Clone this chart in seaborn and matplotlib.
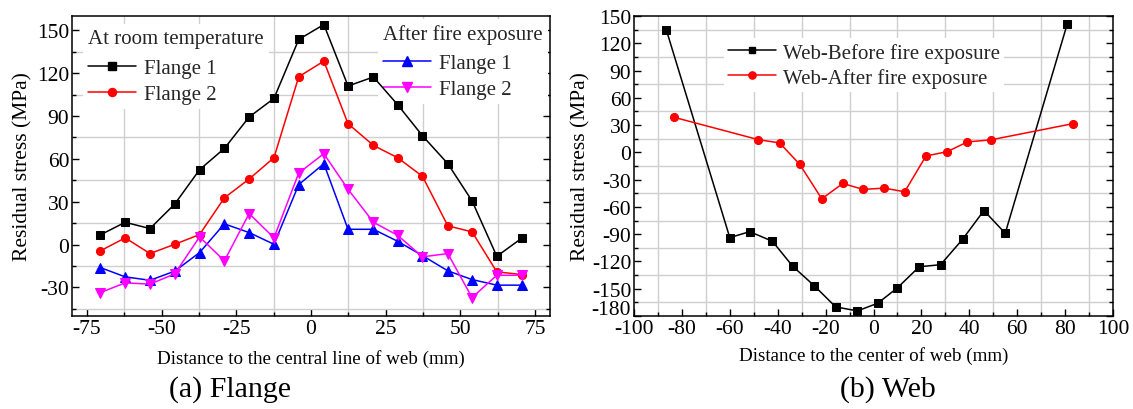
import matplotlib
matplotlib.use("Agg")
import matplotlib.pyplot as plt
import matplotlib.transforms as mtransforms
import seaborn as sns
import pandas as pd
from matplotlib.ticker import MultipleLocator
from matplotlib.lines import Line2D

# ---------------- data ----------------
flange_x = [-70.5, -62.2, -53.9, -45.6, -37.3, -29.0, -20.7, -12.4, -4.1,
            4.3, 12.4, 20.9, 29.0, 37.3, 45.8, 53.9, 62.2, 70.7]
flange1_room = [6.8, 15.6, 11.2, 28.4, 52.4, 67.3, 89.3, 102.3, 143.6,
                154.0, 111.0, 117.3, 97.9, 76.2, 56.6, 30.6, -8.2, 4.7]
flange2_room = [-4.4, 4.7, -6.3, 0.2, 7.0, 32.7, 45.9, 60.8, 117.5,
                128.4, 84.6, 69.4, 60.8, 47.8, 13.1, 8.9, -19.1, -21.0]
flange1_fire = [-16.1, -22.6, -25.0, -18.6, -5.6, 14.5, 8.4, 0.2, 42.0,
                56.6, 10.7, 10.7, 2.3, -7.7, -18.4, -24.5, -28.4, -28.4]
flange2_fire = [-33.6, -26.8, -27.7, -20.5, 5.4, -11.4, 21.7, 4.7, 50.1,
                63.6, 38.7, 15.6, 6.5, -8.6, -6.3, -37.1, -21.5, -21.5]

web_before_x = [-86.5, -60.0, -51.7, -42.2, -33.7, -24.7, -15.8, -6.7,
                1.8, 10.0, 19.1, 28.0, 37.2, 46.1, 55.0, 80.9]
web_before = [134.7, -93.8, -87.2, -97.8, -125.4, -146.8, -170.0, -174.4,
              -165.9, -149.0, -125.8, -123.6, -95.6, -64.0, -89.0, 141.3]
web_after_x = [-83.3, -48.1, -39.2, -30.8, -21.6, -12.8, -4.3, 4.5,
               13.0, 21.9, 30.8, 39.2, 48.9, 83.5]
web_after = [38.6, 14.0, 10.4, -13.2, -51.1, -34.2, -40.8, -39.3,
             -43.4, -4.0, 0.8, 11.5, 13.7, 31.7]

flange_xticks = [-75, -50, -25, 0, 25, 50, 75]
flange_yticks = [-30, 0, 30, 60, 90, 120, 150]
web_xticks = list(range(-100, 101, 20))
web_yticks = list(range(-180, 151, 30))

# ---------------- style ----------------
sns.set_theme(style="white")
plt.rcParams['font.family'] = ['Liberation Serif', 'DejaVu Serif']
plt.rcParams['axes.unicode_minus'] = False

fig = plt.figure(figsize=(11.33, 4.10), dpi=100)
axL = fig.add_axes([72/1133, 1-317/410, 478/1133, 300/410])
axR = fig.add_axes([634/1133, 1-317/410, 479/1133, 300/410])

GRID = '#cfcfcf'
TICKFS = 15.5
LW = 1.1
SQ, CI, TR = 5.5, 5.8, 6.8


def style_axis(ax, xmaj, xmin, ymaj, ymin):
    ax.xaxis.set_major_locator(MultipleLocator(xmaj))
    ax.xaxis.set_minor_locator(MultipleLocator(xmin))
    ax.yaxis.set_major_locator(MultipleLocator(ymaj))
    ax.yaxis.set_minor_locator(MultipleLocator(ymin))
    ax.grid(False, which='major')
    ax.grid(True, which='minor', color=GRID, lw=1.0)
    ax.set_axisbelow(True)
    ax.tick_params(which='both', direction='in', bottom=True, left=True,
                   right=True, top=False, colors='black',
                   labelsize=TICKFS, pad=2)
    ax.tick_params(which='major', length=5, width=1)
    ax.tick_params(which='minor', length=3, width=1)
    for s in ax.spines.values():
        s.set_color('black')
        s.set_linewidth(1.1)
    ax.set_facecolor('white')


# ---------------- left: flange ----------------
dfL = pd.DataFrame({'x': flange_x, 'f1r': flange1_room, 'f2r': flange2_room,
                    'f1f': flange1_fire, 'f2f': flange2_fire})
series = [('f1r', 'black', 's', SQ), ('f2r', '#ff0000', 'o', CI),
          ('f1f', '#0000ff', '^', TR), ('f2f', '#ff00ff', 'v', TR)]
for col, c, m, ms in series:
    sns.lineplot(data=dfL, x='x', y=col, ax=axL, color=c, marker=m,
                 markersize=ms, markeredgecolor=c, lw=LW, legend=False,
                 zorder=3)
axL.set_xlim(-80, 80)
axL.set_ylim(-50, 160)
axL.set_xticks(flange_xticks)
axL.set_yticks(flange_yticks)
style_axis(axL, 25, 12.5, 30, 15)
axL.set_xlabel('Distance to the central line of web (mm)', fontsize=13.7,
               color='black', labelpad=8)
axL.set_ylabel('Residual stress (MPa)', fontsize=15.5, color='black',
               labelpad=3)


def h(c, m, ms):
    return Line2D([0], [0], color=c, marker=m, markersize=ms, lw=LW,
                  markeredgecolor=c)

LEGFS = 15
common = dict(fontsize=LEGFS, title_fontsize=LEGFS, frameon=True,
              framealpha=1, edgecolor='none', fancybox=False,
              handlelength=2.3, handletextpad=0.4, labelspacing=0.28,
              borderpad=0.25, borderaxespad=0.0)
leg1 = axL.legend([h('black', 's', SQ), h('#ff0000', 'o', CI)],
                  ['Flange 1', 'Flange 2'], title='At room temperature',
                  loc='upper left', bbox_to_anchor=(0.022, 0.975), **common)
leg1._legend_box.align = 'left'
leg1._legend_box.sep = 8
leg1.set_zorder(2.5)
axL.add_artist(leg1)
leg2 = axL.legend([h('#0000ff', '^', TR), h('#ff00ff', 'v', TR)],
                  ['Flange 1', 'Flange 2'], title='After fire exposure',
                  loc='upper right', bbox_to_anchor=(0.995, 0.99), **common)
leg2._legend_box.align = 'left'
leg2._legend_box.sep = 7
leg2.set_zorder(2.5)

# ---------------- right: web ----------------
dfB = pd.DataFrame({'x': web_before_x, 'y': web_before})
dfA = pd.DataFrame({'x': web_after_x, 'y': web_after})
sns.lineplot(data=dfB, x='x', y='y', ax=axR, color='black', marker='s',
             markersize=SQ, markeredgecolor='black', lw=LW, legend=False,
             zorder=3, sort=False)
sns.lineplot(data=dfA, x='x', y='y', ax=axR, color='#ff0000', marker='o',
             markersize=CI, markeredgecolor='#ff0000', lw=LW, legend=False,
             zorder=3, sort=False)
axR.set_xlim(-100, 100)
axR.set_ylim(-180, 150)
axR.set_xticks(web_xticks)
axR.set_yticks(web_yticks)
style_axis(axR, 20, 10, 30, 15)
axR.tick_params(axis='x', pad=2)
axR.set_xlabel('Distance to the center of web (mm)', fontsize=13.7,
               color='black', labelpad=6)
axR.set_ylabel('Residual stress (MPa)', fontsize=15.5, color='black',
               labelpad=1)
legR = axR.legend([h('black', 's', 5), h('#ff0000', 'o', 5.2)],
                  ['Web-Before fire exposure', 'Web-After fire exposure'],
                  loc='upper left', bbox_to_anchor=(0.187, 0.925),
                  fontsize=LEGFS, frameon=True, framealpha=1,
                  edgecolor='none', fancybox=False, handlelength=2.3,
                  handletextpad=0.35, labelspacing=0.25, borderpad=0.2,
                  borderaxespad=0.0)
legR.set_zorder(2.5)

# lift the lowest y label a little so it clears the first x label
fig.canvas.draw()
for lab in axR.get_yticklabels():
    if lab.get_text() in ('-180', '\u2212180'):
        lab.set_transform(lab.get_transform() +
                          mtransforms.ScaledTranslation(0, 9/100,
                                                        fig.dpi_scale_trans))

# ---------------- captions ----------------
fig.text(230/1133, 1-390/410, '(a) Flange', fontsize=21.5, ha='center',
         va='center', color='black')
fig.text(888/1133, 1-390/410, '(b) Web', fontsize=21.5, ha='center',
         va='center', color='black')

fig.savefig('out.png', dpi=100, facecolor='white')
